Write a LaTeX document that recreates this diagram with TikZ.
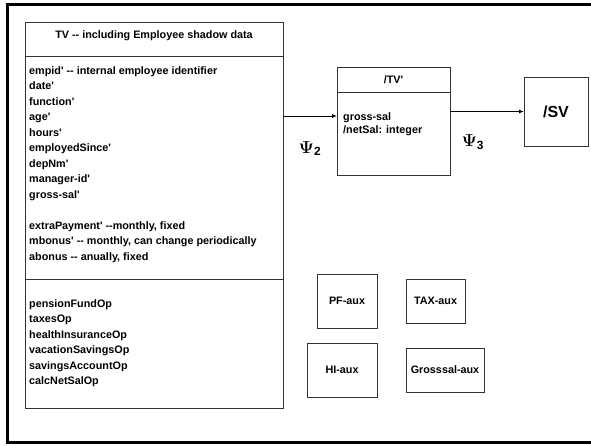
\documentclass[tikz,border=0pt]{standalone}
\usepackage{amsmath}
\usepackage{fontspec}
\setmainfont{Liberation Sans}[Ligatures=TeXOff]
\usetikzlibrary{positioning,arrows.meta}

\begin{document}
\begin{tikzpicture}[x=1pt, y=-1pt,
    box/.style={draw=black!80, line width=0.9pt, inner sep=0pt, outer sep=0pt,
        font=\bfseries\fontsize{10.8}{13}\selectfont},
    lst/.style={inner sep=0pt, align=left, font=\bfseries\fontsize{10.8}{15.5}\selectfont},
    flow/.style={-{Latex[length=5pt,width=4pt]}, line width=0.9pt},
    psi/.style={inner sep=0pt, font=\fontsize{17}{17}\selectfont}]
    \useasboundingbox (0,0) rectangle (591,445);
    \draw[line width=3pt] (591,4) -| (7.5,442.5) -- (591,442.5);
    % TV with its three compartments
    \node[box, minimum width=258pt, minimum height=34pt, anchor=north west] (tv) at (25,22) {};
    \node[box, minimum width=258pt, minimum height=223pt] (tvattr) [below=0pt of tv] {};
    \node[box, minimum width=258pt, minimum height=129pt] (tvops) [below=0pt of tvattr] {};
    \node[lst] (tvname) [below=8.5pt of tv.north] {TV -- including Employee shadow data};
    \node[lst] (attrs) [below right=10pt and 4pt of tvattr.north west] {empid' -- internal employee identifier\\
        date'\\ function'\\ age'\\ hours'\\ employedSince'\\ depNm'\\ manager-id'\\ gross-sal'\\[15.5pt]
        extraPayment' --monthly, fixed\\
        mbonus' -- monthly, can change periodically\\
        abonus -- anually, fixed};
    \node[lst] (ops) [below right=20pt and 4pt of tvops.north west] {pensionFundOp\\ taxesOp\\
        healthInsuranceOp\\ vacationSavingsOp\\ savingsAccountOp\\ calcNetSalOp};
    % TV' and SV
    \node[box, minimum width=113pt, minimum height=25pt, anchor=north west] (tvp) at (337,67) {/TV'};
    \node[box, minimum width=113pt, minimum height=83pt] (tvpbody) [below=0pt of tvp] {};
    \node[lst, font=\bfseries\fontsize{10.8}{13.5}\selectfont] (tvpattrs)
        [below right=20pt and 6pt of tvpbody.north west] {gross-sal\\ /netSal: integer};
    \node[box, minimum width=64pt, minimum height=69pt, anchor=north west,
        font=\bfseries\fontsize{16}{18}\selectfont] (sv) at (524,77) {/SV};
    \coordinate (a1) at (0,116);
    \draw[flow] (a1 -| tvattr.east) -- (a1 -| tvpbody.west)
        node[psi, midway, below=25pt] {$\boldsymbol{\Psi}_{\mathbf{2}}$};
    \draw[flow] (sv.west -| tvpbody.east) -- (sv.west)
        node[psi, pos=0.31, below=23pt] {$\boldsymbol{\Psi}_{\mathbf{3}}$};
    % aux boxes
    \node[box, minimum width=60pt, minimum height=54pt] (pf) at (347,301) {PF-aux};
    \node[box, minimum width=59pt, minimum height=44pt] (tax) [right=29pt of pf] {TAX-aux};
    \node[box, minimum width=70pt, minimum height=54pt] (hi) [below=15pt of pf.south east, anchor=north east] {HI-aux};
    \node[box, minimum width=78pt, minimum height=44pt] (gross) [right=29pt of hi] {Grosssal-aux};
\end{tikzpicture}
\end{document}
